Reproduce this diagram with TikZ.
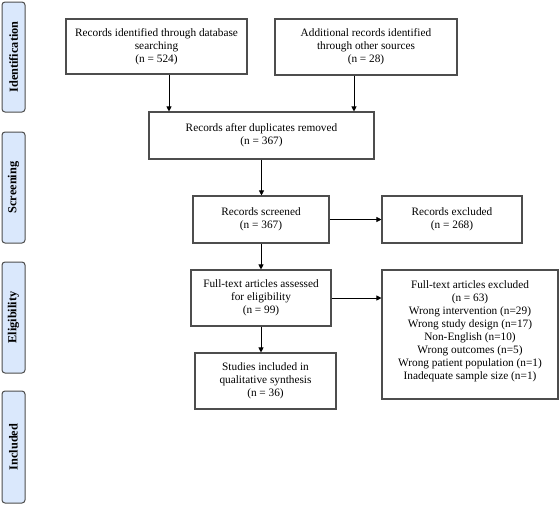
\documentclass[tikz,border=0pt]{standalone}
\usepackage{fontspec}
\setmainfont{Liberation Serif}
\usetikzlibrary{arrows.meta,calc}
\definecolor{phasefill}{HTML}{DAE8FC}
\definecolor{boxline}{HTML}{4D4D4D}
\begin{document}
\begin{tikzpicture}[x=1pt,y=-1pt,
  box/.style={draw=boxline,line width=1.1pt,fill=white,rectangle,inner sep=0pt,
    align=center,font=\fontsize{11.3}{13}\selectfont},
  phase/.style={draw=boxline,line width=1pt,fill=phasefill,rounded corners=3pt,
    minimum width=23pt,inner sep=0pt,rotate=90,
    font=\fontsize{12.3}{14}\selectfont\bfseries},
  arr/.style={draw=black,line width=0.8pt,-{Triangle[length=5pt,width=5pt]}}]
\useasboundingbox (0,0) rectangle (560,504);
\fill[white] (0,0) rectangle (560,504);
% phase labels
\node[phase,minimum width=110pt,minimum height=23pt] (p1) at (13.5,57) {Identification};
\node[phase,minimum width=111pt,minimum height=23pt] (p2) at (13.5,187.5) {Screening};
\node[phase,minimum width=111pt,minimum height=23pt] (p3) at (13.5,317.5) {Eligibility};
\node[phase,minimum width=112pt,minimum height=23pt] (p4) at (13.5,447) {Included};
% boxes
\node[box,minimum width=181pt,minimum height=55pt] (b1) at (156.5,46.5)
  {Records identified through database\\searching\\(n = 524)};
\node[box,minimum width=182pt,minimum height=56pt] (b2) at (366,47)
  {Additional records identified\\through other sources\\(n = 28)};
\node[box,minimum width=225pt,minimum height=47pt] (b3) at (261.5,135.5)
  {Records after duplicates removed\\(n = 367)};
\node[box,minimum width=136pt,minimum height=47pt] (b4) at (261,219.5)
  {Records screened\\(n = 367)};
\node[box,minimum width=140pt,minimum height=47pt] (b5) at (452,219.5)
  {Records excluded\\(n = 268)};
\node[box,minimum width=140pt,minimum height=56pt] (b6) at (261,298)
  {Full-text articles assessed\\for eligibility\\(n = 99)};
\node[box,minimum width=176pt,minimum height=129pt] (b7) at (470,334.5) {};
\node[align=center,inner sep=0pt,font=\fontsize{11.3}{13}\selectfont] (b7t) at (470,331)
  {Full-text articles excluded\\(n = 63)\\Wrong intervention (n=29)\\Wrong study design (n=17)\\Non-English (n=10)\\Wrong outcomes (n=5)\\Wrong patient population (n=1)\\Inadequate sample size (n=1)};
\node[box,minimum width=141pt,minimum height=56pt] (b8) at (265.5,381)
  {Studies included in\\qualitative synthesis\\(n = 36)};
% arrows
\coordinate (a1) at ($(b1.south)+(12.5,0)$);
\coordinate (a2) at ($(b2.south)+(-12,0)$);
\draw[arr] (a1) -- (a1 |- b3.north);
\draw[arr] (a2) -- (a2 |- b3.north);
\draw[arr] (b3.south) -- (b3.south |- b4.north);
\draw[arr] (b4.east) -- (b4.east -| b5.west);
\draw[arr] (b4.south) -- (b4.south |- b6.north);
\draw[arr] (b6.east) -- (b6.east -| b7.west);
\draw[arr] (b6.south) -- (b6.south |- b8.north);
\end{tikzpicture}
\end{document}
